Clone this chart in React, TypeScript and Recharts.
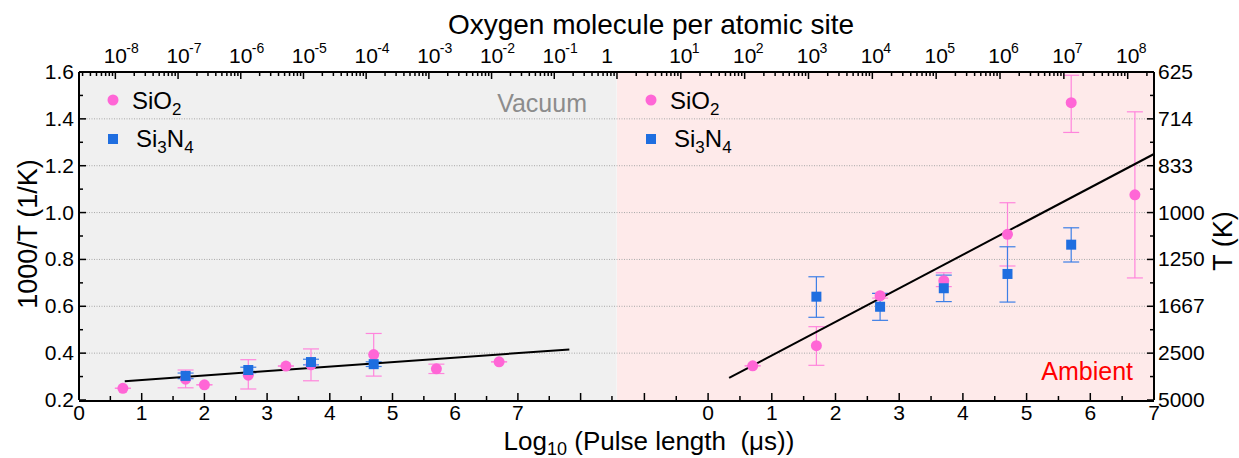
import React from 'react';
import { ComposedChart, XAxis, YAxis, Scatter, ErrorBar, ReferenceArea, ReferenceLine } from 'recharts';

// Vacuum panel (left half)
const vacSiO2X = [0.7, 1.7, 2.0, 2.7, 3.3, 3.7, 4.7, 5.7, 6.7];
const vacSiO2Y = [0.25, 0.289, 0.265, 0.306, 0.345, 0.35, 0.394, 0.333, 0.363];
const vacSiO2Lo = [0, 0.037, 0, 0.059, 0, 0.068, 0.092, 0.02, 0];
const vacSiO2Hi = [0, 0.039, 0, 0.066, 0, 0.068, 0.09, 0.02, 0];

const vacSi3N4X = [1.7, 2.7, 3.7, 4.7];
const vacSi3N4Y = [0.303, 0.328, 0.362, 0.353];
const vacSi3N4Err = [0.012, 0.012, 0.012, 0.01];

const vacFitX = [0.73, 7.82];
const vacFitY = [0.28, 0.416];

// Ambient panel (right half)
const ambSiO2X = [0.7, 1.7, 2.7, 3.7, 4.7, 5.7, 6.7];
const ambSiO2Y = [0.346, 0.432, 0.645, 0.709, 0.907, 1.469, 1.076];
const ambSiO2Lo = [0, 0.084, 0.01, 0.025, 0.135, 0.127, 0.355];
const ambSiO2Hi = [0, 0.081, 0.01, 0.034, 0.135, 0.117, 0.354];

const ambSi3N4X = [1.7, 2.7, 3.7, 4.7, 5.7];
const ambSi3N4Y = [0.641, 0.598, 0.677, 0.738, 0.863];
const ambSi3N4Lo = [0.088, 0.058, 0.057, 0.12, 0.074];
const ambSi3N4Hi = [0.085, 0.057, 0.056, 0.116, 0.072];

const ambFitX = [0.33, 7];
const ambFitY = [0.294, 1.25];

// axis ticks
const vacTicks = [0, 0.5, 1, 1.5, 2, 2.5, 3, 3.5, 4, 4.5, 5, 5.5, 6, 6.5, 7, 7.5, 8, 8.5];
const vacLabels = [0, 1, 2, 3, 4, 5, 6, 7];
const ambTicks = [-1, -0.5, 0, 0.5, 1, 1.5, 2, 2.5, 3, 3.5, 4, 4.5, 5, 5.5, 6, 6.5, 7];
const ambLabels = [0, 1, 2, 3, 4, 5, 6, 7];
const yTicks = [0.2, 0.3, 0.4, 0.5, 0.6, 0.7, 0.8, 0.9, 1.0, 1.1, 1.2, 1.3, 1.4, 1.5, 1.6];
const gridY = [0.4, 0.6, 0.8, 1.0, 1.2, 1.4];
const oxyDecadesLeft = [-9, -8, -7, -6, -5, -4, -3, -2, -1];
const oxyDecadesRight = [0, 1, 2, 3, 4, 5, 6, 7, 8];

const W = 1239;
const H = 458;
const LEFT = 79;
const RIGHT = 1154;
const TOP = 72;
const BOTTOM = 400;
const FONT = '"Liberation Sans", Arial, sans-serif';
const PINK = '#ff66d6';
const PINK_ERR = '#ff85dc';
const BLUE = '#1f6ee0';
const BLUE_ERR = '#3d7fe6';

const VAC_DOMAIN = [0, 17.145];
const AMB_DOMAIN = [-9.876, 7];
const OXY_LEFT_DOMAIN = [-8.58, 8.565];
const OXY_RIGHT_DOMAIN = [-8.427, 8.412];

const rows = (xs: number[], ys: number[], lo?: number[], hi?: number[]) =>
  xs.map((x, i) => ({ x, y: ys[i], err: lo ? [lo[i], hi ? hi[i] : lo[i]] : undefined }));

const vacSiO2 = rows(vacSiO2X, vacSiO2Y, vacSiO2Lo, vacSiO2Hi);
const vacSi3N4 = rows(vacSi3N4X, vacSi3N4Y, vacSi3N4Err);
const ambSiO2 = rows(ambSiO2X, ambSiO2Y, ambSiO2Lo, ambSiO2Hi);
const ambSi3N4 = rows(ambSi3N4X, ambSi3N4Y, ambSi3N4Lo, ambSi3N4Hi);
const vacFit = rows(vacFitX, vacFitY);
const ambFit = rows(ambFitX, ambFitY);

const logTicks = (decades: number[], lo: number, hi: number) => {
  const out: number[] = [];
  decades.forEach((d) => {
    for (let k = 1; k <= 9; k++) {
      const p = d + Math.log10(k);
      if (p >= lo && p <= hi) out.push(p);
    }
  });
  return out;
};
const oxyLeftTicks = [...logTicks(oxyDecadesLeft, -8.57, -0.01), 0];
const oxyRightTicks = logTicks(oxyDecadesRight, 0.01, 8.41);

const isInt = (v: number) => Math.abs(v - Math.round(v)) < 1e-9;

const bottomTick = (labels: number[]) => (props: any) => {
  const { x, payload } = props;
  const v = payload.value;
  const major = isInt(v);
  return (
    <g>
      <line x1={x} x2={x} y1={BOTTOM} y2={BOTTOM - (major ? 7 : 4)} stroke="#000" strokeWidth={1.5} />
      {major && labels.includes(v) && (
        <text x={x} y={BOTTOM + 20} textAnchor="middle" fontSize={21} fontFamily={FONT} fill="#000">
          {v}
        </text>
      )}
    </g>
  );
};

const topTick = (props: any) => {
  const { x, payload } = props;
  const p = payload.value;
  const major = isInt(p);
  const e = Math.round(p);
  return (
    <g>
      <line x1={x} x2={x} y1={TOP} y2={TOP + (major ? 7 : 4)} stroke="#000" strokeWidth={1.5} />
      {major && e === 0 && (
        <text x={x - 10} y={63} textAnchor="middle" fontSize={21} fontFamily={FONT} fill="#000">1</text>
      )}
      {major && e !== 0 && (
        <g>
          <text x={x} y={63} textAnchor="middle" fontSize={21} fontFamily={FONT} fill="#000">10</text>
          <text x={x + 11} y={53} textAnchor="start" fontSize={14} fontFamily={FONT} fill="#000">{String(e)}</text>
        </g>
      )}
    </g>
  );
};

const leftTick = (props: any) => {
  const { y, payload } = props;
  const v = payload.value;
  const major = Math.round(v * 10) % 2 === 0;
  return (
    <g>
      <line x1={LEFT} x2={LEFT + (major ? 7 : 4)} y1={y} y2={y} stroke="#000" strokeWidth={1.5} />
      {major && (
        <text x={LEFT - 5} y={y + 7} textAnchor="end" fontSize={21} fontFamily={FONT} fill="#000">
          {v.toFixed(1)}
        </text>
      )}
    </g>
  );
};

const rightTick = (props: any) => {
  const { y, payload } = props;
  const v = payload.value;
  const major = Math.round(v * 10) % 2 === 0;
  return (
    <g>
      <line x1={RIGHT} x2={RIGHT - (major ? 7 : 4)} y1={y} y2={y} stroke="#000" strokeWidth={1.5} />
      {major && (
        <text x={RIGHT + 4} y={y + 7} textAnchor="start" fontSize={21} fontFamily={FONT} fill="#000">
          {Math.round(1000 / v)}
        </text>
      )}
    </g>
  );
};

const Dot = (color: string) => (props: any) => <circle cx={props.cx} cy={props.cy} r={5.5} fill={color} />;
const Square = (color: string) => (props: any) => (
  <rect x={props.cx - 5} y={props.cy - 5} width={10} height={10} fill={color} />
);
const NoShape = () => <g />;

const axisLine = { stroke: '#000', strokeWidth: 2 };

const Legend = ({ x }: { x: number }) => (
  <g fontFamily={FONT} fill="#000">
    <circle cx={x} cy={100} r={5.5} fill={PINK} />
    <text x={x + 19} y={109} fontSize={24}>
      SiO<tspan fontSize={17} dy={6}>2</tspan>
    </text>
    <rect x={x - 5} y={134} width={10} height={10} fill={BLUE} />
    <text x={x + 23} y={147} fontSize={24}>
      Si<tspan fontSize={17} dy={6}>3</tspan>
      <tspan dy={-6}>N</tspan>
      <tspan fontSize={17} dy={6}>4</tspan>
    </text>
  </g>
);

export default function App() {
  return (
    <div style={{ position: 'relative', width: W, height: H }}>
      <style>{'body{margin:0}'}</style>
      <ComposedChart width={W} height={H}
        margin={{ top: TOP - 2, right: W - RIGHT - 1, bottom: H - BOTTOM - 2, left: LEFT - 1 }}>
        <XAxis xAxisId="vac" dataKey="x" type="number" domain={VAC_DOMAIN} allowDataOverflow ticks={vacTicks}
          interval={0} height={1} orientation="bottom" axisLine={axisLine} tickLine={false} tick={bottomTick(vacLabels)} />
        <XAxis xAxisId="amb" dataKey="x" type="number" domain={AMB_DOMAIN} allowDataOverflow ticks={ambTicks}
          interval={0} height={1} orientation="bottom" axisLine={false} tickLine={false} tick={bottomTick(ambLabels)} />
        <XAxis xAxisId="oxyL" dataKey="x" type="number" domain={OXY_LEFT_DOMAIN} allowDataOverflow ticks={oxyLeftTicks}
          interval={0} height={1} orientation="top" axisLine={axisLine} tickLine={false} tick={topTick} />
        <XAxis xAxisId="oxyR" dataKey="x" type="number" domain={OXY_RIGHT_DOMAIN} allowDataOverflow ticks={oxyRightTicks}
          interval={0} height={1} orientation="top" axisLine={false} tickLine={false} tick={topTick} />
        <YAxis yAxisId="left" dataKey="y" type="number" domain={[0.2, 1.6]} allowDataOverflow ticks={yTicks}
          interval={0} width={1} orientation="left" axisLine={axisLine} tickLine={false} tick={leftTick} />
        <YAxis yAxisId="right" dataKey="y" type="number" domain={[0.2, 1.6]} allowDataOverflow ticks={yTicks}
          interval={0} width={1} orientation="right" axisLine={axisLine} tickLine={false} tick={rightTick} />

        <ReferenceArea xAxisId="vac" yAxisId="left" x1={0} x2={8.575} y1={0.2} y2={1.6}
          fill="#f0f0f0" fillOpacity={1} stroke="none" />
        <ReferenceArea xAxisId="amb" yAxisId="left" x1={-1.43} x2={7} y1={0.2} y2={1.6}
          fill="#feeaea" fillOpacity={1} stroke="none" />
        {gridY.map((g) => (
          <ReferenceLine key={g} xAxisId="vac" yAxisId="left" y={g} stroke="#a8a8a8" strokeDasharray="1 1.5" strokeWidth={1} />
        ))}

        <Scatter xAxisId="vac" yAxisId="left" data={vacFit} line={{ stroke: '#000', strokeWidth: 2 }} shape={NoShape}
          isAnimationActive={false} />
        <Scatter xAxisId="amb" yAxisId="left" data={ambFit} line={{ stroke: '#000', strokeWidth: 2 }} shape={NoShape}
          isAnimationActive={false} />

        <Scatter xAxisId="vac" yAxisId="left" data={vacSiO2} shape={Dot(PINK)} isAnimationActive={false}>
          <ErrorBar dataKey="err" direction="y" width={8} stroke={PINK_ERR} strokeWidth={1.2} isAnimationActive={false} />
        </Scatter>
        <Scatter xAxisId="vac" yAxisId="left" data={vacSi3N4} shape={Square(BLUE)} isAnimationActive={false}>
          <ErrorBar dataKey="err" direction="y" width={8} stroke={BLUE_ERR} strokeWidth={1.2} isAnimationActive={false} />
        </Scatter>
        <Scatter xAxisId="amb" yAxisId="left" data={ambSiO2} shape={Dot(PINK)} isAnimationActive={false}>
          <ErrorBar dataKey="err" direction="y" width={8} stroke={PINK_ERR} strokeWidth={1.2} isAnimationActive={false} />
        </Scatter>
        <Scatter xAxisId="amb" yAxisId="left" data={ambSi3N4} shape={Square(BLUE)} isAnimationActive={false}>
          <ErrorBar dataKey="err" direction="y" width={8} stroke={BLUE_ERR} strokeWidth={1.2} isAnimationActive={false} />
        </Scatter>
      </ComposedChart>

      <svg width={W} height={H} style={{ position: 'absolute', left: 0, top: 0, pointerEvents: 'none' }}>
        <g fontFamily={FONT} fill="#000">
          <text x={651} y={34} textAnchor="middle" fontSize={28}>Oxygen molecule per atomic site</text>
          <text x={649} y={450} textAnchor="middle" fontSize={26} style={{ whiteSpace: 'pre' }}>
            Log<tspan fontSize={18} dy={5}>10</tspan>
            <tspan dy={-5}>{' (Pulse length  (\u03bcs))'}</tspan>
          </text>
          <text transform="translate(37,234) rotate(-90)" textAnchor="middle" fontSize={27}>1000/T (1/K)</text>
          <text transform="translate(1232,241) rotate(-90)" textAnchor="middle" fontSize={27}>T (K)</text>
          <text x={587} y={112} textAnchor="end" fontSize={25} fill="#8c8c8c">Vacuum</text>
          <text x={1133} y={380} textAnchor="end" fontSize={25} fill="#ff0000">Ambient</text>
        </g>
        <Legend x={113} />
        <Legend x={651} />
      </svg>
    </div>
  );
}
